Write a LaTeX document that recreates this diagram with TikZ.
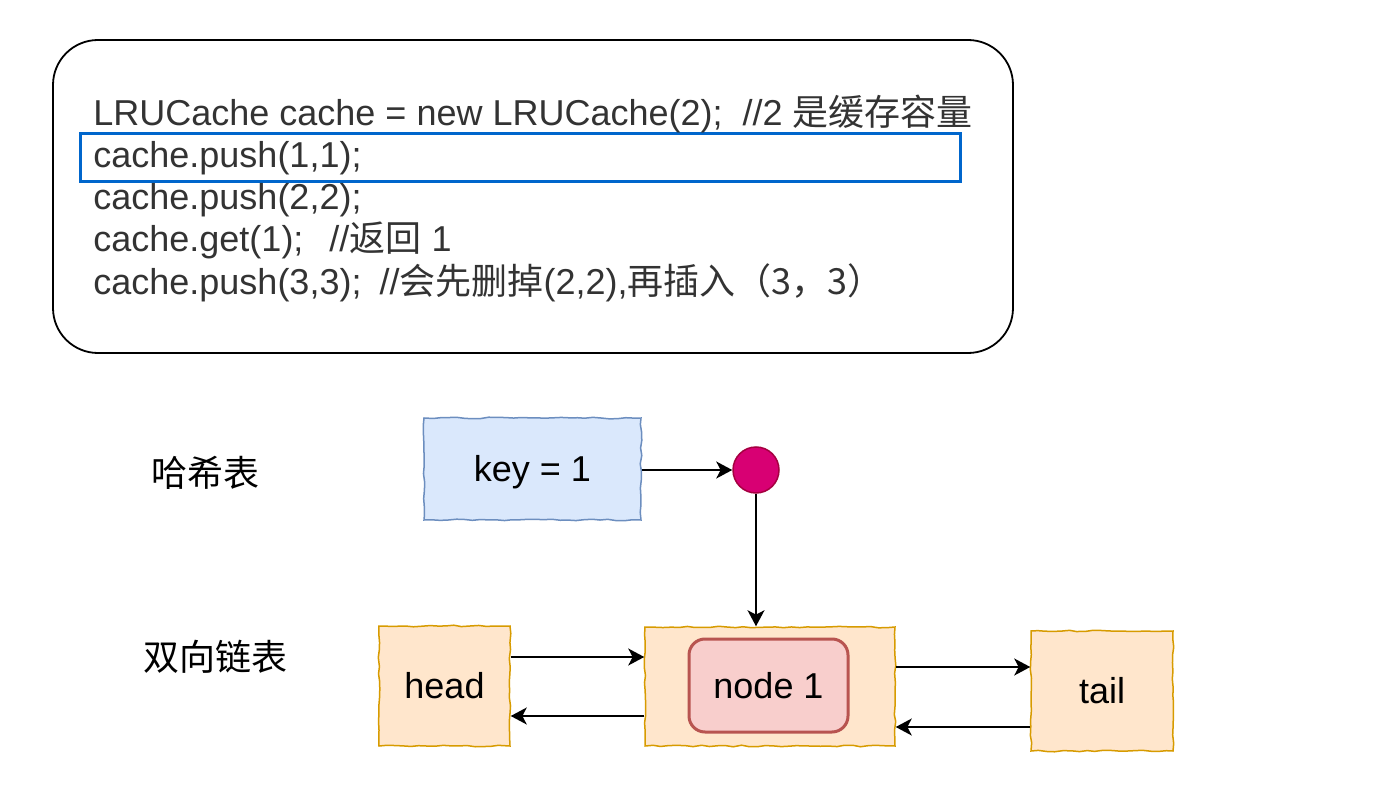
\documentclass[tikz,border=0pt]{standalone}
\usepackage{fontspec}
\setmainfont{Liberation Sans}
\newfontfamily\cjk{Noto Sans CJK SC}
\usetikzlibrary{arrows.meta,decorations.pathmorphing,calc}
\definecolor{codegray}{HTML}{333333}
\definecolor{hlblue}{HTML}{0066CC}
\definecolor{bluefill}{HTML}{DAE8FC}
\definecolor{blueline}{HTML}{6C8EBF}
\definecolor{orfill}{HTML}{FFE6CC}
\definecolor{orline}{HTML}{D79B00}
\definecolor{redfill}{HTML}{F8CECC}
\definecolor{redline}{HTML}{B85450}
\definecolor{dotfill}{HTML}{D80073}
\definecolor{dotline}{HTML}{A50040}
\tikzset{
  sketch/.style={decorate,decoration={random steps,segment length=4pt,amplitude=0.4pt}},
  codeline/.style={anchor=base west,inner sep=0pt,font=\fontsize{18pt}{21pt}\selectfont,text=codegray},
  lbl/.style={inner sep=0pt,font=\fontsize{18pt}{21pt}\selectfont},
  boxtext/.style={inner sep=0pt,text height=12.9pt,text depth=0pt,font=\fontsize{18pt}{21pt}\selectfont},
  keybox/.style={boxtext,sketch,draw=blueline,fill=bluefill,line width=0.75pt},
  lnode/.style={boxtext,sketch,draw=orline,fill=orfill,line width=0.75pt},
  arr/.style={line width=0.9pt,-{Stealth[length=8pt,width=8.5pt,inset=2.2pt]}}
}
\begin{document}
\begin{tikzpicture}[x=0.5pt,y=-0.5pt]
\pgfmathsetseed{7}
\useasboundingbox (0,0) rectangle (1392,786);
% code box
\node[draw,line width=0.9pt,rounded corners=22.5pt,minimum width=480pt,minimum height=156.5pt,inner sep=0pt] (code) at (533,196.5) {};
\node[draw=hlblue,line width=1.5pt,minimum width=440pt,minimum height=24pt,inner sep=0pt] (hl) at (520,158) {};
\node[codeline] (l1) at (93,126) {LRUCache cache = new LRUCache(2);\hspace{10pt}//2 {\cjk 是缓存容量}};
\node[codeline] (l2) at (93,168) {cache.push(1,1);};
\node[codeline] (l3) at (93,210) {cache.push(2,2);};
\node[codeline] (l4) at (93,252) {cache.get(1);\hspace{13pt}//{\cjk 返回} 1};
\node[codeline] (l5) at (93,294) {cache.push(3,3);\hspace{9pt}//{\cjk 会先删掉}(2,2),{\cjk 再插入（3，3）}};
% labels
\node[lbl] (hash) at (205,473) {\cjk 哈希表};
\node[lbl] (dll) at (215,657) {\cjk 双向链表};
% hash table
\node[keybox,minimum width=108.5pt,minimum height=51pt] (key) at (532.5,469) {key = 1};
\node[circle,draw=dotline,fill=dotfill,line width=0.75pt,minimum size=23pt,inner sep=0pt] (dot) at (756,470) {};
% list
\node[lnode,minimum width=65.5pt,minimum height=60pt] (head) at (444.5,686) {head};
\node[lnode,minimum width=125pt,minimum height=59.5pt] (mid) at (770,686.5) {};
\node[boxtext,draw=redline,fill=redfill,line width=1.5pt,rounded corners=8pt,minimum width=79.5pt,minimum height=46.5pt] (n1) at (768.5,685.5) {node 1};
\node[lnode,minimum width=71pt,minimum height=60pt] (tail) at (1102,691) {tail};
% connectors
\draw[arr] (key.east |- dot.west) -- (dot.west);
\draw[arr] (dot.south) -- (dot.south |- mid.north);
\draw[arr] (head.east |- 0,657) -- (mid.west |- 0,657);
\draw[arr] (mid.west |- 0,716) -- (head.east |- 0,716);
\draw[arr] (mid.east |- 0,667) -- (tail.west |- 0,667);
\draw[arr] (tail.west |- 0,727) -- (mid.east |- 0,727);
\end{tikzpicture}
\end{document}
